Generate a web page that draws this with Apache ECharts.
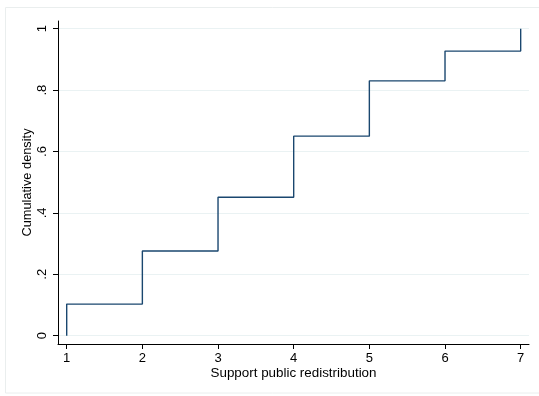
<!DOCTYPE html>
<html>
<head>
<meta charset="utf-8">
<script src="https://cdn.jsdelivr.net/npm/echarts@6/dist/echarts.min.js"></script>
<style>
html,body{margin:0;padding:0;background:#fff;}
#chart{width:539px;height:396px;}
</style>
</head>
<body>
<div id="chart"></div>
<script>
// Data
var categories = [1, 2, 3, 4, 5, 6, 7];          // support public redistribution (1-7)
var cumDensity = [0.103, 0.276, 0.451, 0.650, 0.830, 0.927, 1.000]; // cumulative density at each category
var xTicks = [1, 2, 3, 4, 5, 6, 7];
var yTicks = [0, 0.2, 0.4, 0.6, 0.8, 1];
var yTickLabels = ['0', '.2', '.4', '.6', '.8', '1'];

var stepData = [[categories[0], 0]];
for (var i = 0; i < categories.length; i++) stepData.push([categories[i], cumDensity[i]]);

var font = 'Liberation Sans, Arial, Helvetica, sans-serif';
var chart = echarts.init(document.getElementById('chart'), null, {renderer: 'canvas'});
chart.setOption({
  animation: false,
  backgroundColor: '#ffffff',
  graphic: [{
    type: 'rect', silent: true, z: -10,
    shape: {x: 5.5, y: 7.5, width: 560, height: 385.5},
    style: {fill: '#ffffff', stroke: '#eaeeee', lineWidth: 1}
  }],
  grid: {left: 58, right: 10, top: 21, bottom: 52, containLabel: false},
  xAxis: {
    type: 'value', min: 0.885, max: 7.11,
    name: 'Support public redistribution', nameLocation: 'middle', nameGap: 23,
    nameMoveOverlap: false,
    nameTextStyle: {color: '#000', fontSize: 13.4, fontFamily: font},
    axisLine: {show: true, onZero: false, lineStyle: {color: '#000', width: 1}},
    axisTick: {show: true, length: 5, lineStyle: {color: '#000'}, customValues: xTicks},
    axisLabel: {color: '#000', fontSize: 13, fontFamily: font, margin: 8, customValues: xTicks,
      formatter: function (v) { return String(v); }},
    splitLine: {show: false}
  },
  yAxis: {
    type: 'value', min: -0.027, max: 1.025,
    name: 'Cumulative density', nameLocation: 'middle', nameGap: 24, nameRotate: 90,
    nameMoveOverlap: false,
    nameTextStyle: {color: '#000', fontSize: 12.8, fontFamily: font},
    axisLine: {show: true, onZero: false, lineStyle: {color: '#000', width: 1}},
    axisTick: {show: true, length: 5, lineStyle: {color: '#000'}, customValues: yTicks},
    axisLabel: {color: '#000', fontSize: 13, fontFamily: font, margin: 9, rotate: 90, customValues: yTicks,
      formatter: function (v) {
        for (var k = 0; k < yTicks.length; k++) if (Math.abs(v - yTicks[k]) < 1e-9) return yTickLabels[k];
        return '';
      }},
    splitLine: {show: true, lineStyle: {color: '#eaf2f3', width: 1}}
  },
  series: [{
    type: 'line', step: 'end', data: stepData, symbol: 'none',
    lineStyle: {color: '#1a476f', width: 1.4}
  }]
});
</script>
</body>
</html>
